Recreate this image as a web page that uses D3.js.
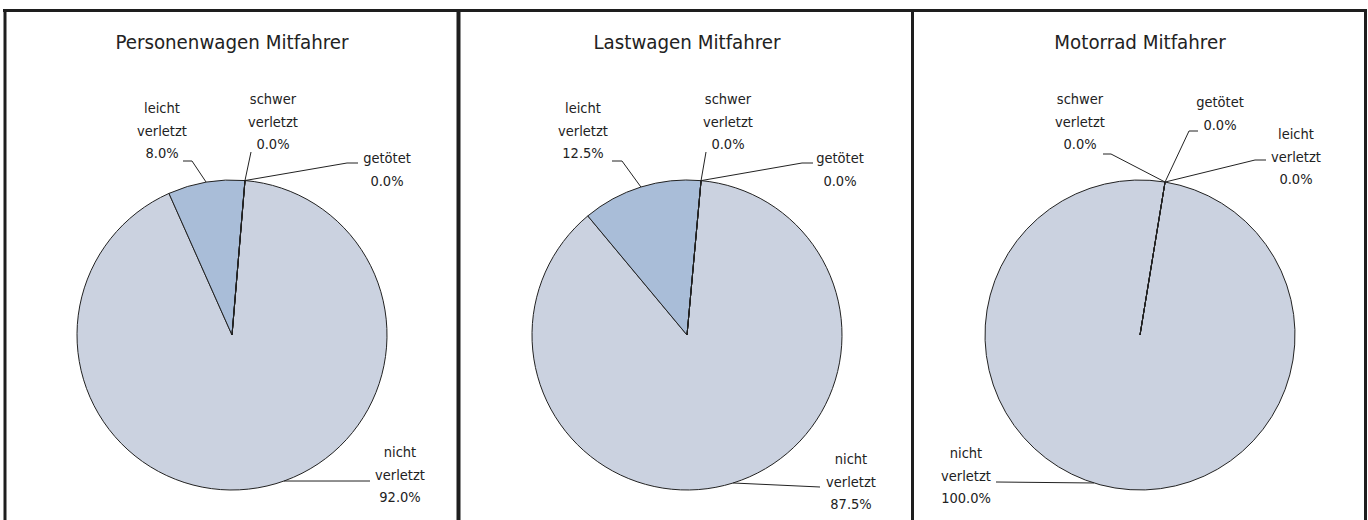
<!DOCTYPE html>
<html>
<head>
<meta charset="utf-8">
<script src="https://cdn.jsdelivr.net/npm/d3@7"></script>
<style>
  body { margin: 0; background: #fff; }
  text { font-family: "DejaVu Sans Condensed", "DejaVu Sans", sans-serif; fill: #222; }
  .title { font-size: 20.3px; }
  .lbl { font-size: 14.5px; }
  .slice { stroke: #222; stroke-width: 1; }
  .leader { fill: none; stroke: #222; stroke-width: 1; }
</style>
</head>
<body>
<div id="chart"></div>
<script>
"use strict"

// data
const categories = ["nicht verletzt", "leicht verletzt", "schwer verletzt", "getötet"];
const titles = ["Personenwagen Mitfahrer", "Lastwagen Mitfahrer", "Motorrad Mitfahrer"];
const pkwValues = [92.0, 8.0, 0.0, 0.0];
const lkwValues = [87.5, 12.5, 0.0, 0.0];
const motorradValues = [100.0, 0.0, 0.0, 0.0];
const seriesValues = [pkwValues, lkwValues, motorradValues];

const width = 1368,
    height = 520,
    radius = 155;

const centersX = [232, 687, 1140];
const centerY = 335;
// rotation of the first slice (degrees)
const startDeg = [4.8, 5.2, 9.3];

const color = d3.scaleOrdinal()
    .domain(categories)
    .range(["#cbd2e0", "#a9bdd8", "#8fa6c8", "#6f88b0"]);

// label layout per chart: text offset, leader end, elbow, anchor nudge
const labelLayout = [
    [
        { t: [168, 117], e: [138, 146], h: 0, n: -10 },
        { t: [-70, -227], e: [-49, -174], h: 9, n: 0 },
        { t: [41, -236], e: [19, -183], h: 0, n: 0 },
        { t: [155, -177], e: [126, -172], h: -11, n: 0 }
    ],
    [
        { t: [164, 124], e: [133, 152], h: 0, n: 0 },
        { t: [-104, -227], e: [-75, -174], h: 10, n: 0 },
        { t: [41, -236], e: [19, -183], h: 0, n: 0 },
        { t: [153, -177], e: [126, -172], h: -11, n: 0 }
    ],
    [
        { t: [-174, 118], e: [-144, 147], h: 0, n: 8 },
        { t: [156, -201], e: [126, -175], h: -11, n: 0 },
        { t: [-60, -236], e: [-37, -181], h: 8, n: 0 },
        { t: [80, -233], e: [58, -204], h: -9, n: 0 }
    ]
];

const lineGap = 22.5;
const fmt = d3.format(".1f");

const svg = d3.select("#chart").append("svg")
    .attr("width", width)
    .attr("height", height);

const arcGenerator = d3.arc()
    .innerRadius(0)
    .outerRadius(radius);

seriesValues.forEach((values, i) => {
    const a0 = startDeg[i] * Math.PI / 180;
    const pie = d3.pie()
        .sort(null)
        .startAngle(a0)
        .endAngle(a0 + 2 * Math.PI);
    const arcs = pie(values);

    const g = svg.append("g")
        .attr("transform", "translate(" + centersX[i] + "," + centerY + ")");

    svg.append("text")
        .attr("class", "title")
        .attr("x", centersX[i])
        .attr("y", 49)
        .attr("text-anchor", "middle")
        .text(titles[i]);

    // non-zero slices first, zero slices on top so their edges show
    const ordered = arcs.slice().sort((a, b) => b.value - a.value);
    g.selectAll("path.slice")
        .data(ordered)
        .enter().append("path")
        .attr("class", "slice")
        .attr("fill", d => color(categories[d.index]))
        .attr("d", arcGenerator);

    arcs.forEach((d, k) => {
        const lay = labelLayout[i][k];
        const mid = (d.startAngle + d.endAngle) / 2 + lay.n * Math.PI / 180;
        const ax = radius * Math.sin(mid),
            ay = -radius * Math.cos(mid);
        const pts = [[ax, ay]];
        if (lay.h !== 0) pts.push([lay.e[0] + lay.h, lay.e[1]]);
        pts.push(lay.e);
        g.append("path")
            .attr("class", "leader")
            .attr("d", d3.line()(pts));

        const lines = categories[k].split(" ").concat([fmt(d.value) + "%"]);
        const txt = g.append("text")
            .attr("class", "lbl")
            .attr("text-anchor", "middle");
        lines.forEach((s, j) => {
            txt.append("tspan")
                .attr("x", lay.t[0])
                .attr("y", lay.t[1] + j * lineGap)
                .attr("dy", "0.35em")
                .text(s);
        });
    });
});

// panel frame
const frame = svg.append("g")
    .attr("stroke", "#1e1e1e")
    .attr("fill", "none");
frame.append("line")
    .attr("x1", 3).attr("x2", 1367)
    .attr("y1", 10.5).attr("y2", 10.5)
    .attr("stroke-width", 3);
[[5, 3], [458.5, 4], [912.5, 3], [1365.5, 3]].forEach(v => {
    frame.append("line")
        .attr("x1", v[0]).attr("x2", v[0])
        .attr("y1", 9).attr("y2", height)
        .attr("stroke-width", v[1]);
});
</script>
</body>
</html>
